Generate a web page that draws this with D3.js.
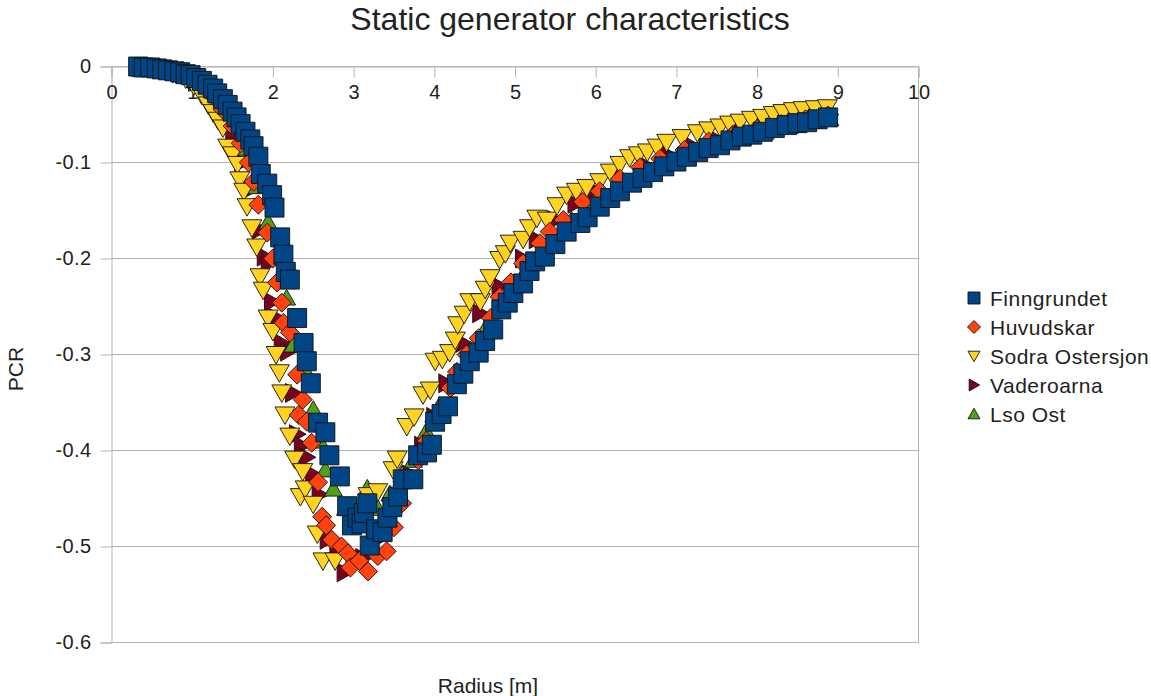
<!DOCTYPE html>
<html><head><meta charset="utf-8">
<script src="https://cdn.jsdelivr.net/npm/d3@7/dist/d3.min.js"></script>
<style>body{margin:0;background:#fff}svg{display:block}text{font-family:"Liberation Sans",Arial,sans-serif;fill:#222}</style>
</head><body><svg id="c" width="1151" height="696"></svg>
<script>
const title = "Static generator characteristics";
const xLabel = "Radius [m]";
const yLabel = "PCR";
const xTicks = [0,1,2,3,4,5,6,7,8,9,10];
const yTicks = [0,-0.1,-0.2,-0.3,-0.4,-0.5,-0.6];
const seriesNames = ["Finngrundet","Huvudskar","Sodra Ostersjon","Vaderoarna","Lso Ost"];

const finngrundet = [[0.33,0],[0.40,-0.001],[0.48,-0.001],[0.56,-0.002],[0.63,-0.003],[0.70,-0.004],[0.78,-0.005],[0.85,-0.006],[0.92,-0.008],[0.98,-0.009],[1.05,-0.012],[1.12,-0.015],[1.19,-0.019],[1.26,-0.023],[1.31,-0.028],[1.38,-0.034],[1.44,-0.040],[1.50,-0.047],[1.55,-0.053],[1.60,-0.060],[1.66,-0.068],[1.72,-0.076],[1.76,-0.083],[1.82,-0.094],[1.85,-0.112],[1.93,-0.122],[1.99,-0.134],[2.02,-0.147],[2.09,-0.178],[2.13,-0.196],[2.16,-0.214],[2.21,-0.222],[2.30,-0.262],[2.38,-0.288],[2.42,-0.307],[2.47,-0.330],[2.56,-0.371],[2.65,-0.381],[2.70,-0.405],[2.83,-0.427],[2.92,-0.458],[2.98,-0.478],[3.05,-0.470],[3.10,-0.476],[3.13,-0.465],[3.17,-0.455],[3.20,-0.499],[3.28,-0.482],[3.36,-0.485],[3.42,-0.470],[3.48,-0.459],[3.55,-0.448],[3.61,-0.430],[3.74,-0.430],[3.80,-0.405],[3.91,-0.402],[3.97,-0.394],[4.01,-0.370],[4.09,-0.362],[4.17,-0.354],[4.28,-0.331],[4.36,-0.320],[4.44,-0.307],[4.55,-0.298],[4.63,-0.286],[4.73,-0.274],[4.83,-0.253],[4.91,-0.246],[4.98,-0.236],[5.10,-0.226],[5.18,-0.213],[5.25,-0.203],[5.37,-0.198],[5.50,-0.185],[5.64,-0.172],[5.81,-0.163],[5.90,-0.157],[6.05,-0.146],[6.18,-0.137],[6.30,-0.130],[6.45,-0.121],[6.58,-0.116],[6.71,-0.110],[6.85,-0.104],[7.00,-0.099],[7.13,-0.094],[7.27,-0.089],[7.40,-0.085],[7.54,-0.082],[7.67,-0.077],[7.81,-0.073],[7.94,-0.071],[8.07,-0.068],[8.22,-0.064],[8.37,-0.061],[8.50,-0.059],[8.62,-0.058],[8.75,-0.055],[8.88,-0.053]];

const huvudskar = [[0.35,-0.001],[0.55,-0.002],[0.75,-0.005],[0.95,-0.010],[1.10,-0.018],[1.25,-0.030],[1.38,-0.045],[1.50,-0.062],[1.60,-0.080],[1.70,-0.100],[1.76,-0.120],[1.82,-0.144],[1.93,-0.173],[2.00,-0.200],[2.05,-0.225],[2.11,-0.246],[2.13,-0.267],[2.21,-0.277],[2.30,-0.321],[2.32,-0.363],[2.37,-0.347],[2.42,-0.370],[2.48,-0.392],[2.56,-0.433],[2.61,-0.469],[2.66,-0.478],[2.73,-0.493],[2.85,-0.500],[2.93,-0.507],[2.96,-0.522],[3.07,-0.515],[3.18,-0.526],[3.30,-0.510],[3.41,-0.505],[3.50,-0.480],[3.60,-0.455],[3.70,-0.430],[3.80,-0.410],[3.90,-0.390],[4.00,-0.370],[4.10,-0.355],[4.20,-0.335],[4.28,-0.318],[4.40,-0.300],[4.55,-0.283],[4.70,-0.262],[4.81,-0.240],[4.95,-0.225],[5.10,-0.205],[5.31,-0.184],[5.43,-0.172],[5.60,-0.160],[5.84,-0.141],[6.05,-0.130],[6.30,-0.117],[6.55,-0.105],[6.80,-0.096],[7.10,-0.087],[7.40,-0.078],[7.70,-0.071],[8.00,-0.065],[8.30,-0.060],[8.60,-0.055],[8.88,-0.051]];

const sodraOstersjon = [[0.35,-0.001],[0.50,-0.002],[0.65,-0.004],[0.80,-0.008],[0.92,-0.013],[1.02,-0.020],[1.12,-0.030],[1.20,-0.040],[1.26,-0.048],[1.32,-0.056],[1.38,-0.064],[1.44,-0.084],[1.50,-0.092],[1.56,-0.102],[1.59,-0.118],[1.64,-0.130],[1.68,-0.146],[1.74,-0.168],[1.80,-0.188],[1.84,-0.219],[1.88,-0.233],[1.94,-0.262],[2.00,-0.276],[2.04,-0.300],[2.08,-0.319],[2.11,-0.340],[2.15,-0.363],[2.21,-0.385],[2.27,-0.409],[2.34,-0.448],[2.37,-0.422],[2.40,-0.440],[2.50,-0.456],[2.55,-0.487],[2.62,-0.515],[2.77,-0.515],[3.05,-0.460],[3.18,-0.447],[3.30,-0.443],[3.49,-0.420],[3.54,-0.409],[3.66,-0.375],[3.75,-0.365],[3.86,-0.342],[3.95,-0.337],[4.01,-0.307],[4.10,-0.305],[4.19,-0.298],[4.26,-0.285],[4.29,-0.269],[4.37,-0.258],[4.44,-0.245],[4.57,-0.245],[4.63,-0.232],[4.69,-0.220],[4.81,-0.201],[4.88,-0.195],[4.94,-0.184],[5.10,-0.180],[5.18,-0.168],[5.27,-0.158],[5.40,-0.160],[5.52,-0.145],[5.64,-0.134],[5.76,-0.130],[5.89,-0.126],[6.05,-0.120],[6.18,-0.110],[6.30,-0.102],[6.42,-0.095],[6.53,-0.092],[6.64,-0.089],[6.76,-0.084],[6.88,-0.079],[7.07,-0.074],[7.26,-0.069],[7.40,-0.066],[7.54,-0.063],[7.66,-0.060],[7.79,-0.058],[7.93,-0.055],[8.07,-0.053],[8.20,-0.050],[8.32,-0.048],[8.45,-0.046],[8.57,-0.045],[8.72,-0.044],[8.87,-0.043]];

const vaderoarna = [[0.35,-0.001],[0.60,-0.003],[0.85,-0.007],[1.05,-0.016],[1.20,-0.028],[1.35,-0.048],[1.51,-0.075],[1.62,-0.100],[1.72,-0.128],[1.84,-0.170],[1.90,-0.198],[1.95,-0.205],[1.99,-0.245],[2.05,-0.262],[2.11,-0.288],[2.19,-0.297],[2.25,-0.340],[2.30,-0.383],[2.36,-0.395],[2.42,-0.407],[2.50,-0.425],[2.58,-0.446],[2.68,-0.493],[2.80,-0.505],[2.89,-0.527],[3.00,-0.520],[3.12,-0.512],[3.25,-0.495],[3.40,-0.475],[3.55,-0.455],[3.70,-0.425],[3.85,-0.395],[4.00,-0.365],[4.15,-0.330],[4.36,-0.288],[4.57,-0.257],[4.81,-0.229],[5.10,-0.200],[5.27,-0.180],[5.50,-0.160],[5.75,-0.143],[6.00,-0.130],[6.30,-0.115],[6.60,-0.102],[6.90,-0.092],[7.20,-0.083],[7.50,-0.076],[7.80,-0.069],[8.10,-0.063],[8.40,-0.057],[8.70,-0.053],[8.90,-0.050]];

const lsoOst = [[0.35,-0.001],[0.60,-0.003],[0.85,-0.007],[1.05,-0.015],[1.25,-0.030],[1.45,-0.055],[1.60,-0.085],[1.75,-0.125],[1.94,-0.162],[2.05,-0.200],[2.17,-0.241],[2.25,-0.290],[2.42,-0.319],[2.50,-0.357],[2.58,-0.390],[2.65,-0.420],[2.75,-0.440],[2.90,-0.460],[3.05,-0.470],[3.17,-0.439],[3.30,-0.460],[3.45,-0.445],[3.60,-0.425],[3.74,-0.410],[3.90,-0.380],[4.05,-0.355],[4.25,-0.325],[4.45,-0.295],[4.65,-0.270],[4.90,-0.240],[5.15,-0.210],[5.40,-0.185],[5.70,-0.160],[6.00,-0.140],[6.30,-0.125],[6.60,-0.112],[6.90,-0.100],[7.20,-0.090],[7.50,-0.082],[7.80,-0.075],[8.10,-0.068],[8.40,-0.062],[8.70,-0.057],[8.90,-0.054]];

const colors = ["#004586","#ff420e","#ffd320","#7e0021","#579d1c"];
const shapes = ["square","diamond","down","right","up"];
const seriesData = [finngrundet, huvudskar, sodraOstersjon, vaderoarna, lsoOst];

function shapePath(kind, s){
  const h = s/2;
  switch(kind){
    case "square": return `M${-h},${-h}H${h}V${h}H${-h}Z`;
    case "diamond": return `M0,${-h}L${h},0L0,${h}L${-h},0Z`;
    case "down": return `M${-h},${-h*0.8}L${h},${-h*0.8}L0,${h*0.95}Z`;
    case "up": return `M${-h},${h*0.8}L${h},${h*0.8}L0,${-h*0.95}Z`;
    case "right": return `M${-h*0.8},${-h}L${h*0.95},0L${-h*0.8},${h}Z`;
  }
}

const svg = d3.select("#c");
const x = d3.scaleLinear().domain([0,10]).range([111.5, 918.5]);
const y = d3.scaleLinear().domain([0,-0.6]).range([66.5, 642.5]);
const grid = "#b3b3b3";

svg.append("g").selectAll("line").data(yTicks).join("line")
  .attr("x1", x(0)).attr("x2", x(10)).attr("y1", d=>y(d)).attr("y2", d=>y(d))
  .attr("stroke", grid).attr("stroke-width",1);
svg.append("line").attr("x1",x(10)).attr("x2",x(10)).attr("y1",y(0)).attr("y2",y(-0.6)).attr("stroke",grid);

const yAxis = d3.axisLeft(y).tickValues(yTicks).tickSize(11).tickPadding(9)
  .tickFormat(d => d===0 ? "0" : d3.format(".1f")(d).replace("−","-"));
const gy = svg.append("g").attr("transform",`translate(${x(0)},0)`).call(yAxis);
gy.select(".domain").attr("stroke",grid);
gy.selectAll(".tick line").attr("stroke",grid);
gy.selectAll(".tick text").attr("font-size",20).attr("fill","#222").attr("font-family","Liberation Sans, Arial, sans-serif").attr("letter-spacing",0.4);

const xAxis = d3.axisBottom(x).tickValues(xTicks).tickSize(11).tickPadding(7).tickFormat(d3.format("d"));
const gx = svg.append("g").attr("transform",`translate(0,${y(0)})`).call(xAxis);
gx.select(".domain").attr("stroke",grid);
gx.selectAll(".tick line").attr("stroke",grid);
gx.selectAll(".tick text").attr("font-size",20).attr("fill","#222").attr("font-family","Liberation Sans, Arial, sans-serif");

const order = [3,4,2,1,0];
const sizes = [19,19,20,19,18];
order.forEach(i=>{
  svg.append("g").selectAll("path").data(seriesData[i]).join("path")
    .attr("transform", d=>`translate(${x(d[0])},${y(d[1])})`)
    .attr("d", shapePath(shapes[i], sizes[i]))
    .attr("fill", colors[i]).attr("stroke","#111").attr("stroke-width",0.9).attr("stroke-linejoin","miter");
});

svg.append("text").attr("x",570).attr("y",30).attr("text-anchor","middle").attr("font-size",32).text(title);
svg.append("text").attr("x",488).attr("y",693).attr("text-anchor","middle").attr("font-size",21).text(xLabel);
svg.append("text").attr("transform","translate(23,369) rotate(-90)").attr("text-anchor","middle").attr("font-size",21).text(yLabel);

const lg = svg.append("g");
seriesNames.forEach((n,i)=>{
  const cy = 298 + i*29;
  lg.append("path").attr("transform",`translate(974,${cy})`).attr("d", shapePath(shapes[i], i===1?13:12))
    .attr("fill",colors[i]).attr("stroke","#111").attr("stroke-width",0.9);
  lg.append("text").attr("x",990).attr("y",cy+7.5).attr("font-size",21).attr("letter-spacing",0.5).text(n);
});
</script></body></html>
